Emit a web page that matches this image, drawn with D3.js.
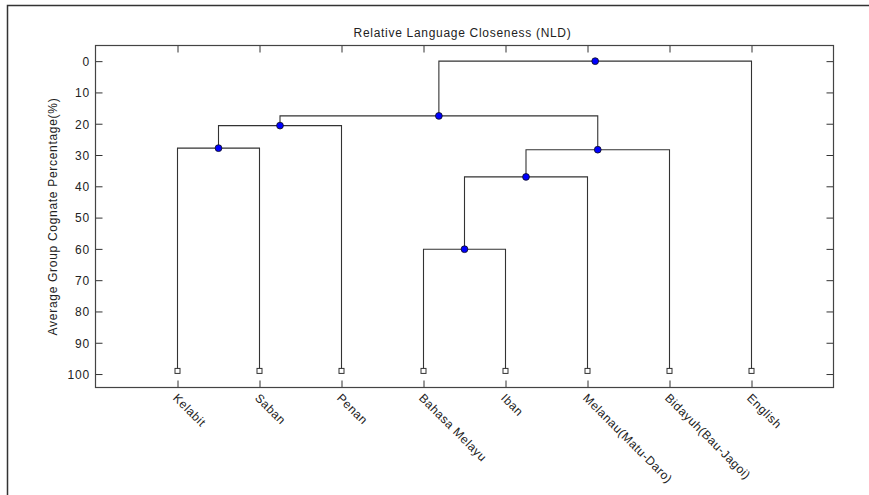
<!DOCTYPE html>
<html>
<head>
<meta charset="utf-8">
<script src="https://cdn.jsdelivr.net/npm/d3@7/dist/d3.min.js"></script>
<style>
  html, body { margin: 0; padding: 0; background: #fff; }
  svg { display: block; }
  text { font-family: "Liberation Sans", Arial, Helvetica, sans-serif; fill: #222; }
</style>
</head>
<body>
<svg id="chart" width="869" height="495"></svg>
<script>
// Languages in leaf order along the x axis
const languages = ["Kelabit", "Saban", "Penan", "Bahasa Melayu", "Iban",
                   "Melanau(Matu-Daro)", "Bidayuh(Bau-Jagoi)", "English"];
// Level at which leaves start
const leafLevel = 99;
// Linkage rows: [left node, right node, merge height]; leaves are 0..7, merged clusters 8..
const linkLeft   = [0, 8, 3, 10, 11, 9, 13];
const linkRight  = [1, 2, 4, 5, 6, 12, 7];
const linkHeight = [27.8, 20.6, 60.1, 37.0, 28.3, 17.5, 0];
// Y axis ticks
const yTicks = [0, 10, 20, 30, 40, 50, 60, 70, 80, 90, 100];

const svg = d3.select("#chart");
const W = 869, H = 495;
const plot = { left: 95.5, right: 833.5, top: 45.5, bottom: 387.5 };

const x = d3.scaleLinear().domain([0, 9]).range([plot.left, plot.right]);
const y = d3.scaleLinear().domain([-5, 104.3]).range([plot.top, plot.bottom]);

// Outer figure frame (top and left edges)
svg.append("path")
  .attr("d", `M7.5,${H} L7.5,5.5 L${W},5.5`)
  .attr("fill", "none").attr("stroke", "#333").attr("stroke-width", 1.5);

// Node positions: leaves at 1..n, clusters at the mean of their children
const nodes = languages.map((name, i) => ({ pos: i + 1, h: leafLevel, leaf: true, name }));
linkLeft.forEach((l, i) => {
  const a = nodes[l], b = nodes[linkRight[i]];
  nodes.push({ pos: (a.pos + b.pos) / 2, h: linkHeight[i], leaf: false, a, b });
});
const clusters = nodes.filter(d => !d.leaf);

// Axes box with inward ticks on all sides
const gAx = svg.append("g");
const axisStyle = g => {
  g.select(".domain").remove();
  g.selectAll(".tick line").attr("stroke", "#333");
  g.selectAll(".tick text").attr("font-size", 12).attr("letter-spacing", 0.8)
    .attr("font-family", "'Liberation Sans', Arial, sans-serif").attr("fill", "#222");
};
const xTickVals = d3.range(1, languages.length + 1);
gAx.append("g").attr("transform", `translate(0,${plot.bottom})`)
  .call(d3.axisBottom(x).tickValues(xTickVals).tickSize(-7).tickFormat(""))
  .call(axisStyle);
gAx.append("g").attr("transform", `translate(0,${plot.top})`)
  .call(d3.axisTop(x).tickValues(xTickVals).tickSize(-7).tickFormat(""))
  .call(axisStyle);
gAx.append("g").attr("transform", `translate(${plot.left},0)`)
  .call(d3.axisLeft(y).tickValues(yTicks).tickSize(-7).tickPadding(6))
  .call(axisStyle)
  .call(g => g.selectAll(".tick text").attr("x", -5.5).attr("dy", "0.36em"));
gAx.append("g").attr("transform", `translate(${plot.right},0)`)
  .call(d3.axisRight(y).tickValues(yTicks).tickSize(-7).tickFormat(""))
  .call(axisStyle);
gAx.append("rect")
  .attr("x", plot.left).attr("y", plot.top)
  .attr("width", plot.right - plot.left).attr("height", plot.bottom - plot.top)
  .attr("fill", "none").attr("stroke", "#444").attr("stroke-width", 1.2);

// Rotated leaf labels
svg.append("g").selectAll("text").data(languages).join("text")
  .attr("transform", (d, i) => `translate(${x(i + 1) + 1},${plot.bottom + 5}) rotate(45)`)
  .attr("font-size", 12).attr("letter-spacing", 0.55)
  .attr("dominant-baseline", "hanging")
  .text(d => d);

// Dendrogram links
svg.append("g").selectAll("path").data(clusters).join("path")
  .attr("d", d => `M${x(d.a.pos)},${y(d.a.h)} V${y(d.h)} H${x(d.b.pos)} V${y(d.b.h)}`)
  .attr("fill", "none").attr("stroke", "#333").attr("stroke-width", 1.1);

// Leaf markers
svg.append("g").selectAll("rect").data(nodes.filter(d => d.leaf)).join("rect")
  .attr("x", d => x(d.pos) - 2.5).attr("y", d => y(d.h) - 2.5)
  .attr("width", 5).attr("height", 5)
  .attr("fill", "#fff").attr("stroke", "#333").attr("stroke-width", 1);

// Cluster markers
svg.append("g").selectAll("circle").data(clusters).join("circle")
  .attr("cx", d => x(d.pos)).attr("cy", d => y(d.h)).attr("r", 3.4)
  .attr("fill", "#0000ff").attr("stroke", "#111").attr("stroke-width", 0.8);

// Title and axis label
svg.append("text")
  .attr("x", (plot.left + plot.right) / 2 - 2).attr("y", 37)
  .attr("text-anchor", "middle").attr("font-size", 12).attr("letter-spacing", 0.7)
  .text("Relative Language Closeness (NLD)");
svg.append("text")
  .attr("transform", `translate(57,${(plot.top + plot.bottom) / 2}) rotate(-90)`)
  .attr("text-anchor", "middle").attr("font-size", 12).attr("letter-spacing", 0.7)
  .text("Average Group Cognate Percentage(%)");
</script>
</body>
</html>
